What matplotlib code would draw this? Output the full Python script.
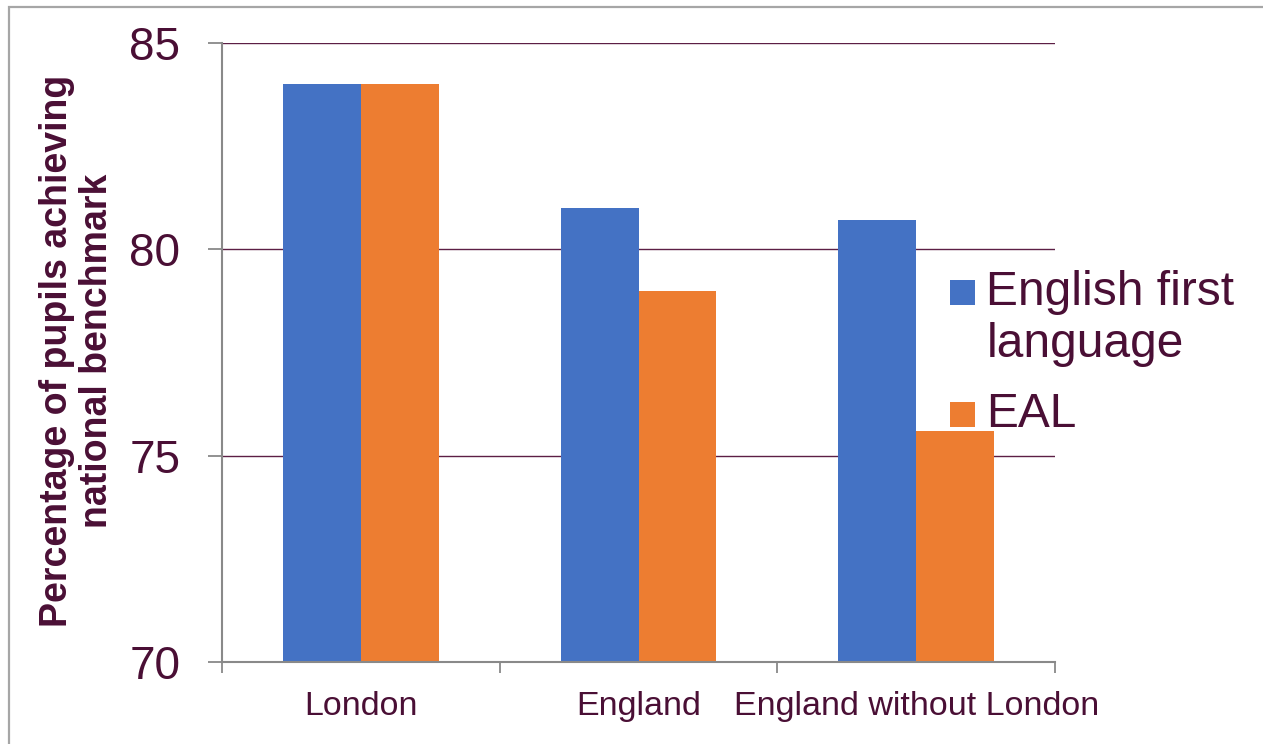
import matplotlib
matplotlib.use("Agg")
import numpy as np
import matplotlib.pyplot as plt
from matplotlib.patches import Rectangle

# Pupils reaching the national benchmark, by region and first language
regions = ["London", "England", "England without London"]
english_first = [84.0, 81.0, 80.7]
eal = [84.0, 79.0, 75.6]
series_names = ["English first\nlanguage", "EAL"]
series_colors = ["#4472c4", "#ed7d31"]
y_ticks = [70, 75, 80, 85]

text_color = "#4a0f35"
grid_color = "#5c1f45"
axis_color = "#898989"

plt.rcParams["font.family"] = ["Liberation Sans", "DejaVu Sans"]

fig = plt.figure(figsize=(12.63, 7.44), dpi=100)
ax = fig.add_axes([0.1758, 0.1102, 0.6595, 0.8320])

# Outer frame round the chart area
fig.patches.append(Rectangle((0.0071, -0.05), 1.2, 1.0406, transform=fig.transFigure,
                             fill=False, edgecolor="#a6a6a6", linewidth=1.6, zorder=0))

x = np.arange(len(regions))
bar_width = 0.28
for values, offset, color in zip([english_first, eal], [-bar_width / 2, bar_width / 2], series_colors):
    ax.bar(x + offset, values, width=bar_width, color=color, zorder=3)

ax.set_xlim(-0.5, 2.5)
ax.set_ylim(70, 85)
ax.set_yticks(y_ticks)
ax.yaxis.grid(True, color=grid_color, linewidth=1.0, zorder=1)
ax.set_axisbelow(True)

# Category labels in the middle, tick marks on the boundaries
ax.set_xticks(x)
ax.set_xticklabels(regions, fontsize=24.5, color=text_color)
ax.set_xticks(np.arange(-0.5, 3.0, 1.0), minor=True)
ax.tick_params(axis="x", which="major", length=0, pad=21)
ax.tick_params(axis="x", which="minor", length=8, width=1.3, color=axis_color)
ax.tick_params(axis="y", length=10, width=1.3, color=axis_color, pad=20,
               labelsize=33, labelcolor=text_color)

for side in ["top", "right"]:
    ax.spines[side].set_visible(False)
for side in ["left", "bottom"]:
    ax.spines[side].set_color(axis_color)
    ax.spines[side].set_linewidth(1.5)
ax.spines["bottom"].set_zorder(4)

ax.set_ylabel("Percentage of pupils achieving\nnational benchmark", fontsize=27,
              fontweight="bold", color=text_color, linespacing=1.12)
ax.yaxis.set_label_coords(-0.129, 0.502)

# Legend drawn by hand so the swatch sits beside the first line of text
legend_rows = [(0.607, series_names[0]), (0.4436, series_names[1])]
for (y_top, name), color in zip(legend_rows, series_colors):
    fig.patches.append(Rectangle((0.752, y_top - 0.0175), 0.0198, 0.0336,
                                 transform=fig.transFigure, facecolor=color,
                                 edgecolor="none"))
    fig.text(0.781, y_top + 0.03, name, fontsize=34.5, color=text_color,
             va="top", ha="left", linespacing=1.2)

fig.savefig("out.png", dpi=100)
